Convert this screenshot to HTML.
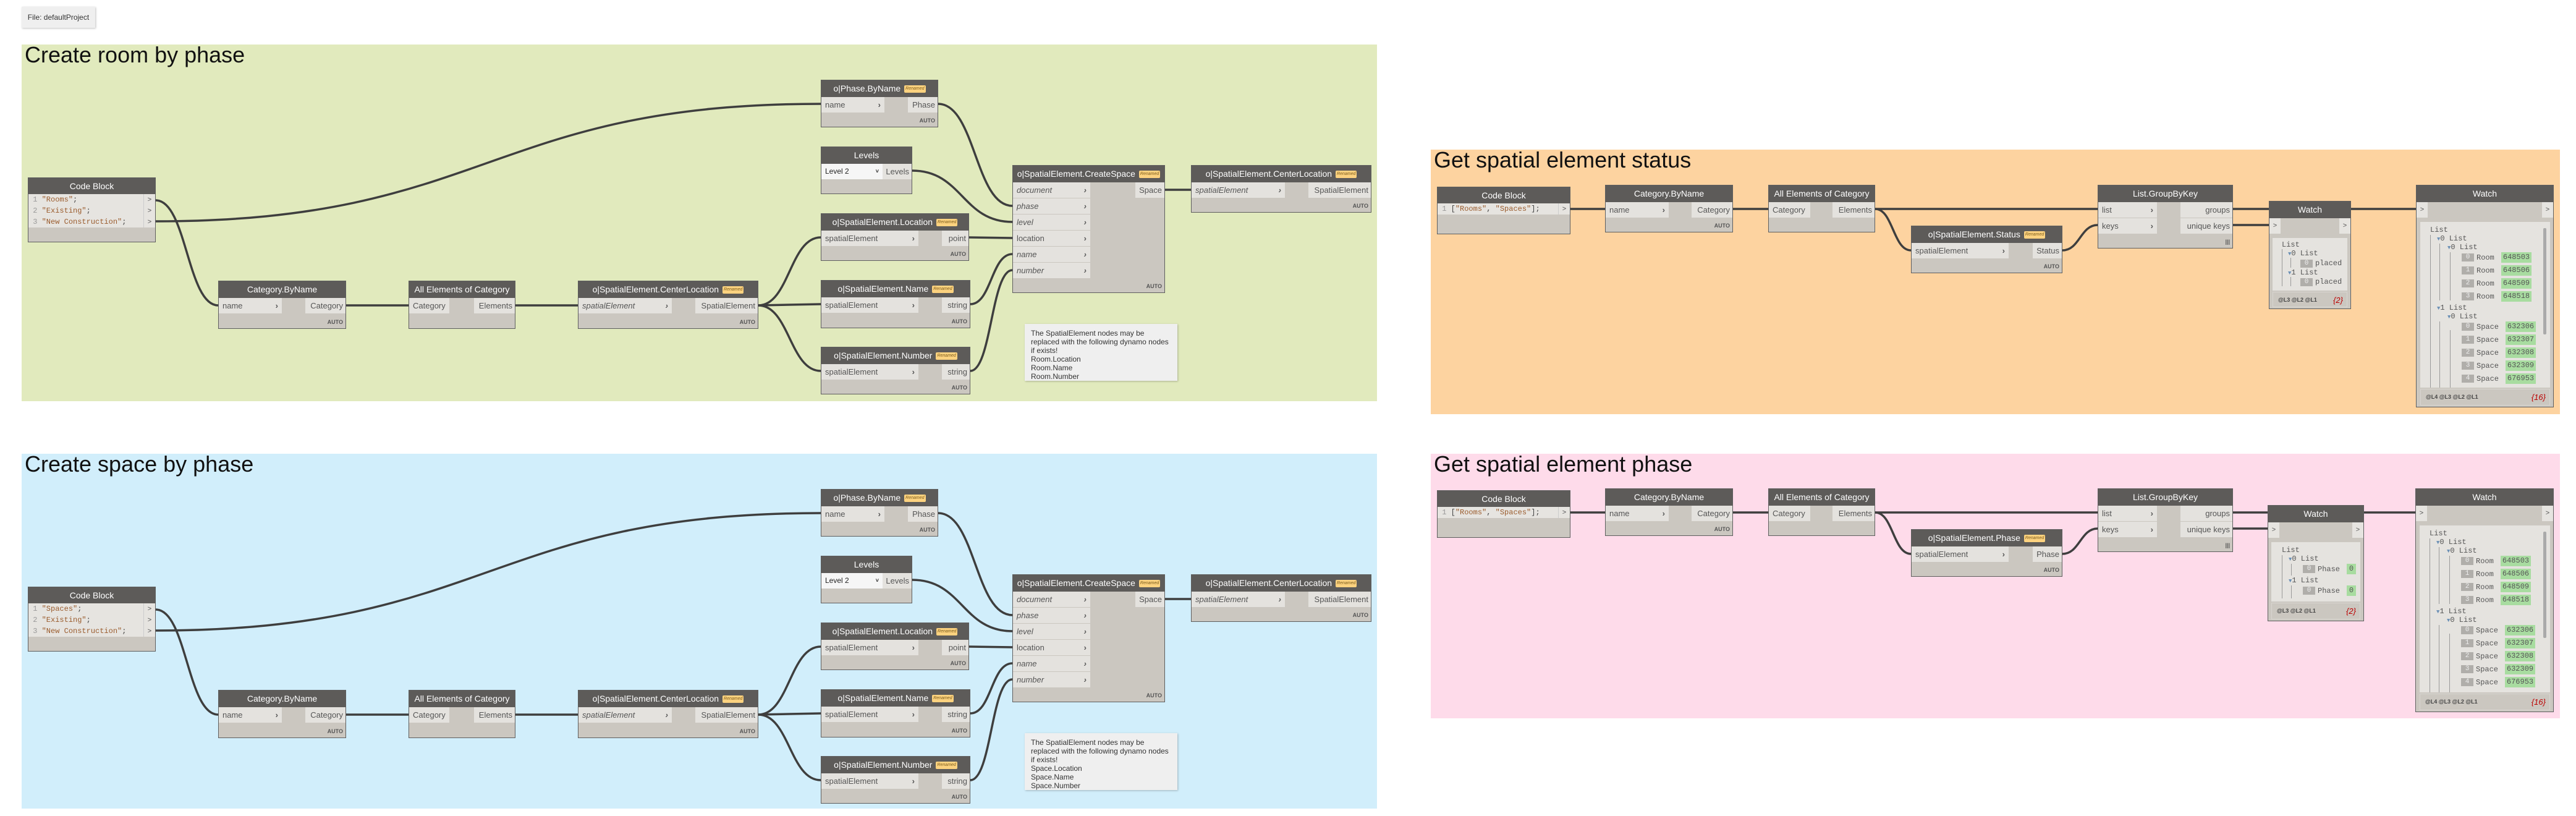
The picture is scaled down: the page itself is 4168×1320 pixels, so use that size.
<!DOCTYPE html>
<html><head><meta charset="utf-8"><style>
body{margin:0;width:4168px;height:1320px;position:relative;background:#fff;overflow:hidden;font-family:"Liberation Sans",sans-serif}
.g{position:absolute}
.t{position:absolute;font-size:36px;color:#111;white-space:nowrap}
.n{position:absolute;background:#cbc7c0;border:1px solid #5e5e5e;box-sizing:border-box}
.h{height:27px;background:#5d5b59;color:#fff;font-size:14px;line-height:27px;text-align:center;white-space:nowrap}
.p{position:absolute;height:25px;line-height:25px;font-size:13px;color:#555;background:#e4e2de;box-sizing:border-box;white-space:nowrap}
.i{left:0;padding-left:6px}
.o{right:0;padding-right:4px;text-align:right}
.i b{position:absolute;right:6px;top:0;font-weight:bold}
.it{font-style:italic}
.a{position:absolute;right:4px;bottom:5px;font-size:9px;font-weight:bold;color:#555}
.rn{display:inline-block;background:#fcd27f;color:#7a5b1a;font-size:7px;font-style:italic;border-radius:2px;padding:1px 2px;line-height:10px;vertical-align:middle;margin-left:6px}
.cb{position:absolute;left:0;height:18px;line-height:18px;font-family:"Liberation Mono",monospace;font-size:12px;color:#999;background:#e6e4e0;white-space:nowrap}
.cb s{text-decoration:none;color:#9a5b2c}
.cb u{text-decoration:none;color:#444}
.ar{position:absolute;right:0;width:18px;height:18px;line-height:18px;font-size:11px;text-align:center;background:#e6e4e0;color:#555;border-left:1px solid #ccc}
.note{position:absolute;background:#efefef;box-shadow:1px 1px 3px rgba(0,0,0,.25);font-size:12px;line-height:14px;color:#333;padding:8px 10px;box-sizing:border-box}
.wc{position:absolute;background:#e5e3df}
.wf{position:absolute;background:#cbc7c0;border:1px solid #d8d5d0;box-sizing:border-box;font-size:9px;font-weight:bold;color:#444;line-height:25px;padding-left:8px}
.wf i{position:absolute;right:6px;color:#b00;font-size:13px;font-weight:normal}
.w{position:absolute;font-family:"Liberation Mono",monospace;font-size:12px;color:#555;line-height:14px;white-space:nowrap}
.w em{color:#6a8fb5;font-style:normal;font-size:9px}
.ix{position:absolute;background:#b0aeaa;color:#eee;font-family:"Liberation Mono",monospace;font-size:11px;line-height:13px;text-align:center;width:20px}
.gv{position:absolute;background:#a8dca0;color:#555;font-family:"Liberation Mono",monospace;font-size:12px;line-height:17px;text-align:center}
.vl{position:absolute;width:1px;background:#999}
.sa{position:absolute;width:18px;height:25px;line-height:25px;background:#e6e4e0;color:#555;font-size:11px;text-align:center}
</style></head><body>

<div class="g" style="left:35px;top:11px;width:119px;height:34px;background:#efefef;box-shadow:1px 1px 3px rgba(0,0,0,.25);font-size:12px;line-height:34px;text-align:center;color:#333">File: defaultProject</div>

<div class="g" style="left:35px;top:72px;width:2193px;height:577px;background:#e1eabd"></div>
<div class="t" style="left:40px;top:68px">Create room by phase</div>
<div class="g" style="left:35px;top:734px;width:2193px;height:574px;background:#d1eefb"></div>
<div class="t" style="left:40px;top:730px">Create space by phase</div>
<div class="g" style="left:2315px;top:242px;width:1827px;height:428px;background:#fdd3a0"></div>
<div class="t" style="left:2320px;top:238px">Get spatial element status</div>
<div class="g" style="left:2315px;top:734px;width:1827px;height:428px;background:#fedbea"></div>
<div class="t" style="left:2320px;top:730px">Get spatial element phase</div>

<svg class="g" style="left:0;top:0" width="4168" height="1320" fill="none" stroke="#3e3e3e" stroke-width="3.5">
<g id="w1">
<path d="M252,324 C302,324 303,494 353,494"/>
<path d="M252,358 C790,358 790,168 1328,168"/>
<path d="M560,494 L661,494"/>
<path d="M834,494 L935,494"/>
<path d="M1227,494 C1277,494 1278,384 1328,384"/>
<path d="M1227,494 L1328,492"/>
<path d="M1227,494 C1277,494 1278,600 1328,600"/>
<path d="M1518,168 C1578,168 1578,333 1638,333"/>
<path d="M1476,276 C1557,276 1557,359 1638,359"/>
<path d="M1568,384 L1638,385"/>
<path d="M1570,492 C1604,492 1604,411 1638,411"/>
<path d="M1570,600 C1604,600 1604,437 1638,437"/>
<path d="M1885,307 L1927,307"/>
</g>
<use href="#w1" y="662"/>
<g id="w3">
<path d="M2541,338 L2597,338"/>
<path d="M2804,338 L2861,338"/>
<path d="M3034,338 L3394,338"/>
<path d="M3034,338 C3063,338 3063,405 3092,405"/>
<path d="M3337,405 C3365,405 3366,364 3394,364"/>
<path d="M3613,338 L3909,338"/>
<path d="M3613,364 L3671,364"/>
</g>
<use href="#w3" y="491"/>
</svg>

<!-- GROUP 1 -->
<div class="n" style="left:45px;top:287px;width:207px;height:105px"><div class="h">Code Block</div>
<div class="cb" style="top:26px;width:205px">&nbsp;1 <s>"Rooms"</s><u>;</u></div><div class="ar" style="top:26px">&gt;</div>
<div class="cb" style="top:44px;width:205px">&nbsp;2 <s>"Existing"</s><u>;</u></div><div class="ar" style="top:44px">&gt;</div>
<div class="cb" style="top:62px;width:205px">&nbsp;3 <s>"New Construction"</s><u>;</u></div><div class="ar" style="top:62px">&gt;</div></div>
<div class="n" style="left:353px;top:454px;width:207px;height:78px"><div class="h">Category.ByName</div><div class="p i" style="top:27px;width:102px">name<b>›</b></div><div class="p o" style="top:27px;width:65px">Category</div><div class="a">AUTO</div></div>
<div class="n" style="left:661px;top:454px;width:173px;height:78px"><div class="h">All Elements of Category</div><div class="p i" style="top:27px;width:65px">Category</div><div class="p o" style="top:27px;width:66px">Elements</div></div>
<div class="n" style="left:935px;top:454px;width:292px;height:78px"><div class="h">o|SpatialElement.CenterLocation<span class="rn">Renamed</span></div><div class="p i it" style="top:27px;width:151px">spatialElement<b>›</b></div><div class="p o" style="top:27px;width:101px">SpatialElement</div><div class="a">AUTO</div></div>
<div class="n" style="left:1328px;top:129px;width:190px;height:77px"><div class="h">o|Phase.ByName<span class="rn">Renamed</span></div><div class="p i" style="top:27px;width:102px">name<b>›</b></div><div class="p o" style="top:27px;width:48px">Phase</div><div class="a">AUTO</div></div>
<div class="n" style="left:1328px;top:237px;width:148px;height:77px"><div class="h">Levels</div><div class="p i" style="top:27px;width:99px;background:#f6f6f6;color:#222;font-size:12px">Level 2<b style="font-size:9px">˅</b></div><div class="p o" style="top:27px;width:47px">Levels</div></div>
<div class="n" style="left:1328px;top:345px;width:240px;height:77px"><div class="h">o|SpatialElement.Location<span class="rn">Renamed</span></div><div class="p i" style="top:27px;width:157px">spatialElement<b>›</b></div><div class="p o" style="top:27px;width:43px">point</div><div class="a">AUTO</div></div>
<div class="n" style="left:1328px;top:453px;width:242px;height:78px"><div class="h">o|SpatialElement.Name<span class="rn">Renamed</span></div><div class="p i" style="top:27px;width:157px">spatialElement<b>›</b></div><div class="p o" style="top:27px;width:45px">string</div><div class="a">AUTO</div></div>
<div class="n" style="left:1328px;top:561px;width:242px;height:77px"><div class="h">o|SpatialElement.Number<span class="rn">Renamed</span></div><div class="p i" style="top:27px;width:157px">spatialElement<b>›</b></div><div class="p o" style="top:27px;width:45px">string</div><div class="a">AUTO</div></div>
<div class="n" style="left:1638px;top:267px;width:247px;height:207px"><div class="h">o|SpatialElement.CreateSpace<span class="rn">Renamed</span></div>
<div class="p i it" style="top:27px;width:125px">document<b>›</b></div><div class="p i it" style="top:53px;width:125px">phase<b>›</b></div><div class="p i it" style="top:79px;width:125px">level<b>›</b></div><div class="p i" style="top:105px;width:125px">location<b>›</b></div><div class="p i it" style="top:131px;width:125px">name<b>›</b></div><div class="p i it" style="top:157px;width:125px">number<b>›</b></div>
<div class="p o" style="top:27px;width:47px">Space</div><div class="a">AUTO</div></div>
<div class="n" style="left:1927px;top:267px;width:292px;height:77px"><div class="h">o|SpatialElement.CenterLocation<span class="rn">Renamed</span></div><div class="p i it" style="top:27px;width:151px">spatialElement<b>›</b></div><div class="p o" style="top:27px;width:101px">SpatialElement</div><div class="a">AUTO</div></div>
<div class="note" style="left:1658px;top:524px;width:247px;height:92px">The SpatialElement nodes may be replaced with the following dynamo nodes if exists!<br>Room.Location<br>Room.Name<br>Room.Number</div>

<!-- GROUP 2 -->
<div class="n" style="left:45px;top:949px;width:207px;height:105px"><div class="h">Code Block</div>
<div class="cb" style="top:26px;width:205px">&nbsp;1 <s>"Spaces"</s><u>;</u></div><div class="ar" style="top:26px">&gt;</div>
<div class="cb" style="top:44px;width:205px">&nbsp;2 <s>"Existing"</s><u>;</u></div><div class="ar" style="top:44px">&gt;</div>
<div class="cb" style="top:62px;width:205px">&nbsp;3 <s>"New Construction"</s><u>;</u></div><div class="ar" style="top:62px">&gt;</div></div>
<div class="n" style="left:353px;top:1116px;width:207px;height:78px"><div class="h">Category.ByName</div><div class="p i" style="top:27px;width:102px">name<b>›</b></div><div class="p o" style="top:27px;width:65px">Category</div><div class="a">AUTO</div></div>
<div class="n" style="left:661px;top:1116px;width:173px;height:78px"><div class="h">All Elements of Category</div><div class="p i" style="top:27px;width:65px">Category</div><div class="p o" style="top:27px;width:66px">Elements</div></div>
<div class="n" style="left:935px;top:1116px;width:292px;height:78px"><div class="h">o|SpatialElement.CenterLocation<span class="rn">Renamed</span></div><div class="p i it" style="top:27px;width:151px">spatialElement<b>›</b></div><div class="p o" style="top:27px;width:101px">SpatialElement</div><div class="a">AUTO</div></div>
<div class="n" style="left:1328px;top:791px;width:190px;height:77px"><div class="h">o|Phase.ByName<span class="rn">Renamed</span></div><div class="p i" style="top:27px;width:102px">name<b>›</b></div><div class="p o" style="top:27px;width:48px">Phase</div><div class="a">AUTO</div></div>
<div class="n" style="left:1328px;top:899px;width:148px;height:77px"><div class="h">Levels</div><div class="p i" style="top:27px;width:99px;background:#f6f6f6;color:#222;font-size:12px">Level 2<b style="font-size:9px">˅</b></div><div class="p o" style="top:27px;width:47px">Levels</div></div>
<div class="n" style="left:1328px;top:1007px;width:240px;height:77px"><div class="h">o|SpatialElement.Location<span class="rn">Renamed</span></div><div class="p i" style="top:27px;width:157px">spatialElement<b>›</b></div><div class="p o" style="top:27px;width:43px">point</div><div class="a">AUTO</div></div>
<div class="n" style="left:1328px;top:1115px;width:242px;height:78px"><div class="h">o|SpatialElement.Name<span class="rn">Renamed</span></div><div class="p i" style="top:27px;width:157px">spatialElement<b>›</b></div><div class="p o" style="top:27px;width:45px">string</div><div class="a">AUTO</div></div>
<div class="n" style="left:1328px;top:1223px;width:242px;height:77px"><div class="h">o|SpatialElement.Number<span class="rn">Renamed</span></div><div class="p i" style="top:27px;width:157px">spatialElement<b>›</b></div><div class="p o" style="top:27px;width:45px">string</div><div class="a">AUTO</div></div>
<div class="n" style="left:1638px;top:929px;width:247px;height:207px"><div class="h">o|SpatialElement.CreateSpace<span class="rn">Renamed</span></div>
<div class="p i it" style="top:27px;width:125px">document<b>›</b></div><div class="p i it" style="top:53px;width:125px">phase<b>›</b></div><div class="p i it" style="top:79px;width:125px">level<b>›</b></div><div class="p i" style="top:105px;width:125px">location<b>›</b></div><div class="p i it" style="top:131px;width:125px">name<b>›</b></div><div class="p i it" style="top:157px;width:125px">number<b>›</b></div>
<div class="p o" style="top:27px;width:47px">Space</div><div class="a">AUTO</div></div>
<div class="n" style="left:1927px;top:929px;width:292px;height:77px"><div class="h">o|SpatialElement.CenterLocation<span class="rn">Renamed</span></div><div class="p i it" style="top:27px;width:151px">spatialElement<b>›</b></div><div class="p o" style="top:27px;width:101px">SpatialElement</div><div class="a">AUTO</div></div>
<div class="note" style="left:1658px;top:1186px;width:247px;height:92px">The SpatialElement nodes may be replaced with the following dynamo nodes if exists!<br>Space.Location<br>Space.Name<br>Space.Number</div>

<!-- GROUP 3 -->
<div class="n" style="left:2325px;top:302px;width:216px;height:77px"><div class="h">Code Block</div>
<div class="cb" style="top:26px;width:214px">&nbsp;1 <u>[</u><s>"Rooms"</s><u>, </u><s>"Spaces"</s><u>];</u></div><div class="ar" style="top:26px">&gt;</div></div>
<div class="n" style="left:2597px;top:299px;width:207px;height:77px"><div class="h">Category.ByName</div><div class="p i" style="top:27px;width:102px">name<b>›</b></div><div class="p o" style="top:27px;width:66px">Category</div><div class="a">AUTO</div></div>
<div class="n" style="left:2861px;top:299px;width:173px;height:77px"><div class="h">All Elements of Category</div><div class="p i" style="top:27px;width:67px">Category</div><div class="p o" style="top:27px;width:68px">Elements</div></div>
<div class="n" style="left:3092px;top:365px;width:245px;height:77px"><div class="h">o|SpatialElement.Status<span class="rn">Renamed</span></div><div class="p i" style="top:27px;width:157px">spatialElement<b>›</b></div><div class="p o" style="top:27px;width:47px">Status</div><div class="a">AUTO</div></div>
<div class="n" style="left:3394px;top:299px;width:219px;height:103px"><div class="h">List.GroupByKey</div><div class="p i" style="top:27px;width:95px">list<b>›</b></div><div class="p i" style="top:53px;width:95px">keys<b>›</b></div><div class="p o" style="top:27px;width:84px">groups</div><div class="p o" style="top:53px;width:84px">unique keys</div><div class="a">|||</div></div>
<div class="n" style="left:3671px;top:325px;width:133px;height:175px"><div class="h">Watch</div><div class="sa" style="left:0;top:27px">&gt;</div><div class="sa" style="right:0;top:27px">&gt;</div>
<div class="wc" style="left:5px;top:59px;width:121px;height:85px"></div>
<div class="w" style="left:20px;top:63px">List</div>
<div class="w" style="left:30px;top:77px"><em>▼</em>0 List</div>
<div class="vl" style="left:20px;top:77px;height:60px"></div><div class="vl" style="left:34px;top:91px;height:16px"></div>
<div class="ix" style="left:50px;top:94px">0</div><div class="w" style="left:74px;top:93px">placed</div>
<div class="w" style="left:30px;top:108px"><em>▼</em>1 List</div>
<div class="vl" style="left:34px;top:122px;height:15px"></div>
<div class="ix" style="left:50px;top:124px">0</div><div class="w" style="left:74px;top:123px">placed</div>
<div class="wf" style="left:5px;top:146px;width:121px;height:25px">@L3 @L2 @L1<i>{2}</i></div></div>
<div class="n" style="left:3909px;top:299px;width:223px;height:360px"><div class="h">Watch</div><div class="sa" style="left:0;top:27px">&gt;</div><div class="sa" style="right:0;top:27px">&gt;</div>
<div class="wc" style="left:6px;top:59px;width:210px;height:268px"></div>
<div class="g" style="left:205px;top:69px;width:5px;height:172px;background:#aaa;border-radius:2px"></div>
<div class="vl" style="left:22px;top:80px;height:247px"></div><div class="vl" style="left:37px;top:94px;height:92px"></div><div class="vl" style="left:37px;top:220px;height:107px"></div><div class="vl" style="left:54px;top:108px;height:78px"></div><div class="vl" style="left:54px;top:234px;height:93px"></div>
<div class="w" style="left:22px;top:65px">List</div>
<div class="w" style="left:33px;top:79px"><em>▼</em>0 List</div>
<div class="w" style="left:50px;top:93px"><em>▼</em>0 List</div>
<div class="ix" style="left:73px;top:110px">0</div><div class="w" style="left:97px;top:110px">Room</div><div class="gv" style="left:137px;top:108px;width:49px">648503</div>
<div class="ix" style="left:73px;top:131px">1</div><div class="w" style="left:97px;top:131px">Room</div><div class="gv" style="left:137px;top:129px;width:49px">648506</div>
<div class="ix" style="left:73px;top:152px">2</div><div class="w" style="left:97px;top:152px">Room</div><div class="gv" style="left:137px;top:150px;width:49px">648509</div>
<div class="ix" style="left:73px;top:173px">3</div><div class="w" style="left:97px;top:173px">Room</div><div class="gv" style="left:137px;top:171px;width:49px">648518</div>
<div class="w" style="left:33px;top:191px"><em>▼</em>1 List</div>
<div class="w" style="left:50px;top:205px"><em>▼</em>0 List</div>
<div class="ix" style="left:73px;top:222px">0</div><div class="w" style="left:97px;top:222px">Space</div><div class="gv" style="left:144px;top:220px;width:49px">632306</div>
<div class="ix" style="left:73px;top:243px">1</div><div class="w" style="left:97px;top:243px">Space</div><div class="gv" style="left:144px;top:241px;width:49px">632307</div>
<div class="ix" style="left:73px;top:264px">2</div><div class="w" style="left:97px;top:264px">Space</div><div class="gv" style="left:144px;top:262px;width:49px">632308</div>
<div class="ix" style="left:73px;top:285px">3</div><div class="w" style="left:97px;top:285px">Space</div><div class="gv" style="left:144px;top:283px;width:49px">632309</div>
<div class="ix" style="left:73px;top:306px">4</div><div class="w" style="left:97px;top:306px">Space</div><div class="gv" style="left:144px;top:304px;width:49px">676953</div>
<div class="wf" style="left:6px;top:329px;width:210px;height:27px">@L4 @L3 @L2 @L1<i>{16}</i></div></div>

<!-- GROUP 4 -->
<div class="n" style="left:2325px;top:793px;width:216px;height:77px"><div class="h">Code Block</div>
<div class="cb" style="top:26px;width:214px">&nbsp;1 <u>[</u><s>"Rooms"</s><u>, </u><s>"Spaces"</s><u>];</u></div><div class="ar" style="top:26px">&gt;</div></div>
<div class="n" style="left:2597px;top:790px;width:207px;height:77px"><div class="h">Category.ByName</div><div class="p i" style="top:27px;width:102px">name<b>›</b></div><div class="p o" style="top:27px;width:66px">Category</div><div class="a">AUTO</div></div>
<div class="n" style="left:2861px;top:790px;width:173px;height:77px"><div class="h">All Elements of Category</div><div class="p i" style="top:27px;width:67px">Category</div><div class="p o" style="top:27px;width:68px">Elements</div></div>
<div class="n" style="left:3092px;top:856px;width:245px;height:77px"><div class="h">o|SpatialElement.Phase<span class="rn">Renamed</span></div><div class="p i" style="top:27px;width:157px">spatialElement<b>›</b></div><div class="p o" style="top:27px;width:47px">Phase</div><div class="a">AUTO</div></div>
<div class="n" style="left:3394px;top:790px;width:219px;height:103px"><div class="h">List.GroupByKey</div><div class="p i" style="top:27px;width:95px">list<b>›</b></div><div class="p i" style="top:53px;width:95px">keys<b>›</b></div><div class="p o" style="top:27px;width:84px">groups</div><div class="p o" style="top:53px;width:84px">unique keys</div><div class="a">|||</div></div>
<div class="n" style="left:3669px;top:817px;width:156px;height:188px"><div class="h">Watch</div><div class="sa" style="left:0;top:27px">&gt;</div><div class="sa" style="right:0;top:27px">&gt;</div>
<div class="wc" style="left:5px;top:59px;width:144px;height:96px"></div>
<div class="vl" style="left:22px;top:80px;height:70px"></div><div class="vl" style="left:37px;top:94px;height:19px"></div><div class="vl" style="left:37px;top:129px;height:21px"></div>
<div class="w" style="left:22px;top:65px">List</div>
<div class="w" style="left:33px;top:79px"><em>▼</em>0 List</div>
<div class="ix" style="left:56px;top:96px">0</div><div class="w" style="left:80px;top:96px">Phase</div><div class="gv" style="left:127px;top:94px;width:15px">0</div>
<div class="w" style="left:33px;top:114px"><em>▼</em>1 List</div>
<div class="ix" style="left:56px;top:131px">0</div><div class="w" style="left:80px;top:131px">Phase</div><div class="gv" style="left:127px;top:129px;width:15px">0</div>
<div class="wf" style="left:5px;top:157px;width:144px;height:27px">@L3 @L2 @L1<i>{2}</i></div></div>
<div class="n" style="left:3908px;top:790px;width:224px;height:362px"><div class="h">Watch</div><div class="sa" style="left:0;top:27px">&gt;</div><div class="sa" style="right:0;top:27px">&gt;</div>
<div class="wc" style="left:6px;top:59px;width:211px;height:270px"></div>
<div class="g" style="left:206px;top:69px;width:5px;height:172px;background:#aaa;border-radius:2px"></div>
<div class="vl" style="left:22px;top:80px;height:249px"></div><div class="vl" style="left:37px;top:94px;height:92px"></div><div class="vl" style="left:37px;top:220px;height:109px"></div><div class="vl" style="left:54px;top:108px;height:78px"></div><div class="vl" style="left:54px;top:234px;height:95px"></div>
<div class="w" style="left:22px;top:65px">List</div>
<div class="w" style="left:33px;top:79px"><em>▼</em>0 List</div>
<div class="w" style="left:50px;top:93px"><em>▼</em>0 List</div>
<div class="ix" style="left:73px;top:110px">0</div><div class="w" style="left:97px;top:110px">Room</div><div class="gv" style="left:137px;top:108px;width:49px">648503</div>
<div class="ix" style="left:73px;top:131px">1</div><div class="w" style="left:97px;top:131px">Room</div><div class="gv" style="left:137px;top:129px;width:49px">648506</div>
<div class="ix" style="left:73px;top:152px">2</div><div class="w" style="left:97px;top:152px">Room</div><div class="gv" style="left:137px;top:150px;width:49px">648509</div>
<div class="ix" style="left:73px;top:173px">3</div><div class="w" style="left:97px;top:173px">Room</div><div class="gv" style="left:137px;top:171px;width:49px">648518</div>
<div class="w" style="left:33px;top:191px"><em>▼</em>1 List</div>
<div class="w" style="left:50px;top:205px"><em>▼</em>0 List</div>
<div class="ix" style="left:73px;top:222px">0</div><div class="w" style="left:97px;top:222px">Space</div><div class="gv" style="left:144px;top:220px;width:49px">632306</div>
<div class="ix" style="left:73px;top:243px">1</div><div class="w" style="left:97px;top:243px">Space</div><div class="gv" style="left:144px;top:241px;width:49px">632307</div>
<div class="ix" style="left:73px;top:264px">2</div><div class="w" style="left:97px;top:264px">Space</div><div class="gv" style="left:144px;top:262px;width:49px">632308</div>
<div class="ix" style="left:73px;top:285px">3</div><div class="w" style="left:97px;top:285px">Space</div><div class="gv" style="left:144px;top:283px;width:49px">632309</div>
<div class="ix" style="left:73px;top:306px">4</div><div class="w" style="left:97px;top:306px">Space</div><div class="gv" style="left:144px;top:304px;width:49px">676953</div>
<div class="wf" style="left:6px;top:331px;width:211px;height:27px">@L4 @L3 @L2 @L1<i>{16}</i></div></div>

</body></html>
